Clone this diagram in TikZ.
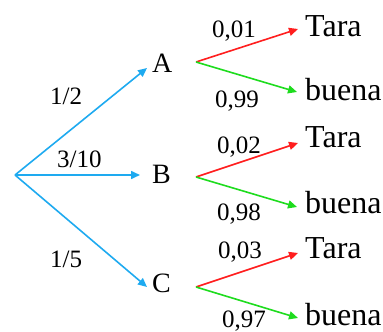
\documentclass[tikz,border=0pt]{standalone}
\usepackage{fontspec}
\setmainfont{Liberation Serif}
\usetikzlibrary{arrows.meta}
\definecolor{bl}{RGB}{30,170,240}
\definecolor{rd}{RGB}{255,30,30}
\definecolor{gr}{RGB}{30,220,30}
\begin{document}
\begin{tikzpicture}[x=1pt,y=-1pt,
 lab/.style={anchor=base west,inner sep=0pt,font=\fontsize{28}{28}\selectfont},
 outc/.style={anchor=base west,inner sep=0pt,font=\fontsize{32}{32}\selectfont},
 num/.style={anchor=base west,inner sep=0pt,font=\fontsize{25}{25}\selectfont},
 arr/.style={line width=1.6pt,-{Triangle[length=9pt,width=8pt]}}]
\useasboundingbox (0,0) rectangle (383,332);
\coordinate (O) at (15,175);
% first level
\node[lab] (A) at (152,72) {A};
\node[lab] (B) at (152,183) {B};
\node[lab] (C) at (152,292) {C};
\coordinate (eA) at (147,68);
\coordinate (eB) at (140,175);
\coordinate (eC) at (147,287);
\draw[arr,bl] (O) -- (eA);
\draw[arr,bl] (O) -- (eB);
\draw[arr,bl] (O) -- (eC);
\node[num] (pA) at (50,104) {1/2};
\node[num] (pB) at (57,167) {3/10};
\node[num] (pC) at (50,267) {1/5};
% second level
\coordinate (sA) at (196,62);
\coordinate (sB) at (196,177);
\coordinate (sC) at (196,287);
\node[outc] (tA) at (305,36) {Tara};
\node[outc] (bA) at (305,100) {buena};
\node[outc] (tB) at (305,147) {Tara};
\node[outc] (bB) at (305,213) {buena};
\node[outc] (tC) at (305,258) {Tara};
\node[outc] (bC) at (305,325) {buena};
\coordinate (rA) at (298,29);
\coordinate (gA) at (297,92);
\coordinate (rB) at (298,143);
\coordinate (gB) at (297,207);
\coordinate (rC) at (298,253);
\coordinate (gC) at (298,318);
\draw[arr,rd] (sA) -- (rA);
\draw[arr,gr] (sA) -- (gA);
\draw[arr,rd] (sB) -- (rB);
\draw[arr,gr] (sB) -- (gB);
\draw[arr,rd] (sC) -- (rC);
\draw[arr,gr] (sC) -- (gC);
\node[num] (qA1) at (212,37) {0,01};
\node[num] (qA2) at (215,107) {0,99};
\node[num] (qB1) at (217,153) {0,02};
\node[num] (qB2) at (217,220) {0,98};
\node[num] (qC1) at (218,258) {0,03};
\node[num] (qC2) at (222,327) {0,97};
\end{tikzpicture}
\end{document}
